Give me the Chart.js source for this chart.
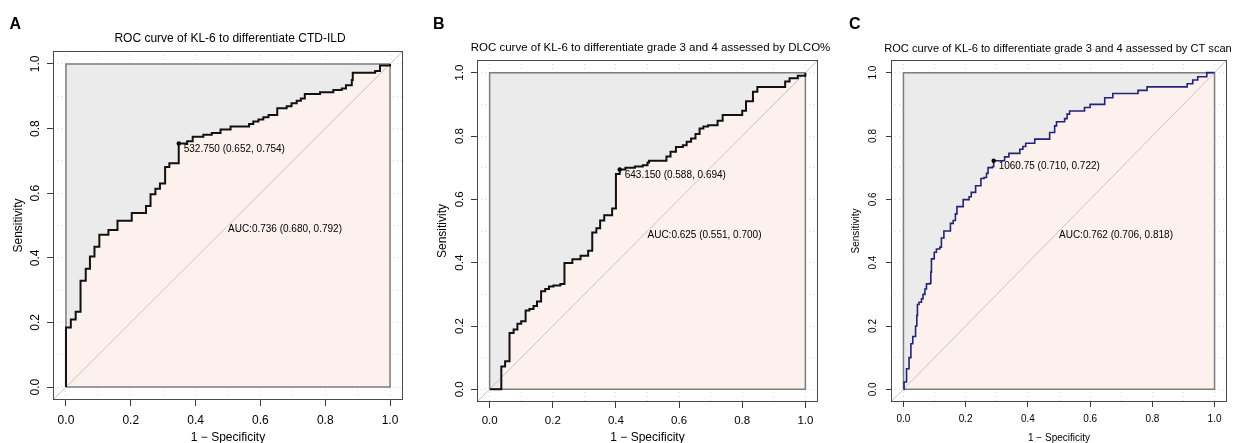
<!DOCTYPE html>
<html>
<head>
<meta charset="utf-8">
<script src="https://cdn.jsdelivr.net/npm/chart.js@4.4.1/dist/chart.umd.min.js"></script>
<style>
  body { margin: 0; background: #fff; overflow: hidden; }
  canvas { position: absolute; top: 0; }
</style>
</head>
<body>
<canvas id="rocA" width="420" height="443" style="left:0"></canvas>
<canvas id="rocB" width="418" height="443" style="left:420px"></canvas>
<canvas id="rocC" width="399" height="443" style="left:838px"></canvas>
<script>
const FONT = '"Liberation Sans", Arial, Helvetica, sans-serif';

// grid every 0.1, labels every 0.2
const gridSteps = [0, 0.1, 0.2, 0.3, 0.4, 0.5, 0.6, 0.7, 0.8, 0.9, 1.0];

const panelLetters = ['A', 'B', 'C'];
const panelTitles = [
    'ROC curve of KL-6 to differentiate CTD-ILD',
    'ROC curve of KL-6 to differentiate grade 3 and 4 assessed by DLCO%',
    'ROC curve of KL-6 to differentiate grade 3 and 4 assessed by CT scan'
];
const cutLabels = ['532.750 (0.652, 0.754)', '643.150 (0.588, 0.694)', '1060.75 (0.710, 0.722)'];
const aucLabels = ['AUC:0.736 (0.680, 0.792)', 'AUC:0.625 (0.551, 0.700)', 'AUC:0.762 (0.706, 0.818)'];
const aucLabelAt = [0.5, 0.5];

// best thresholds: [1 - specificity, sensitivity]
const cutA = [0.348, 0.754];
const cutB = [0.412, 0.694];
const cutC = [0.290, 0.722];

// ROC points (1 - specificity, sensitivity)
const fprA = [0, 0, 0.015, 0.030, 0.045, 0.061, 0.074, 0.088, 0.103, 0.131, 0.159, 0.203, 0.247, 0.261, 0.276,
    0.290, 0.306, 0.319, 0.348, 0.374, 0.391, 0.424, 0.450, 0.477, 0.508, 0.565, 0.578, 0.594, 0.609, 0.625,
    0.652, 0.681, 0.696, 0.712, 0.725, 0.737, 0.784, 0.825, 0.851, 0.864, 0.882, 0.885, 0.954, 0.969, 1.0];
const tprA = [0, 0.184, 0.209, 0.233, 0.329, 0.366, 0.404, 0.434, 0.471, 0.486, 0.515, 0.539, 0.560, 0.597, 0.614,
    0.630, 0.681, 0.693, 0.754, 0.761, 0.775, 0.781, 0.786, 0.797, 0.806, 0.814, 0.822, 0.828, 0.835, 0.842,
    0.863, 0.869, 0.878, 0.886, 0.893, 0.907, 0.912, 0.919, 0.924, 0.934, 0.950, 0.973, 0.978, 0.995, 1.0];

const fprB = [0, 0.037, 0.049, 0.063, 0.076, 0.088, 0.100, 0.114, 0.126, 0.139, 0.150, 0.163, 0.176, 0.188, 0.202,
    0.224, 0.237, 0.262, 0.288, 0.312, 0.325, 0.338, 0.350, 0.363, 0.388, 0.400, 0.412, 0.430, 0.460, 0.485,
    0.500, 0.505, 0.560, 0.573, 0.590, 0.612, 0.624, 0.638, 0.652, 0.665, 0.677, 0.692, 0.722, 0.738, 0.800,
    0.812, 0.834, 0.848, 0.936, 0.950, 0.976, 1.0];
const tprB = [0, 0.072, 0.089, 0.178, 0.189, 0.207, 0.215, 0.249, 0.254, 0.263, 0.277, 0.310, 0.317, 0.325, 0.328,
    0.333, 0.399, 0.411, 0.422, 0.438, 0.495, 0.509, 0.533, 0.550, 0.571, 0.680, 0.694, 0.700, 0.704, 0.708,
    0.716, 0.722, 0.735, 0.750, 0.765, 0.771, 0.782, 0.792, 0.806, 0.824, 0.830, 0.834, 0.848, 0.866, 0.880,
    0.910, 0.940, 0.955, 0.972, 0.982, 0.990, 1.0];

const fprC = [0, 0.002, 0.010, 0.018, 0.024, 0.030, 0.039, 0.043, 0.045, 0.050, 0.058, 0.063, 0.069, 0.074, 0.085,
    0.088, 0.090, 0.099, 0.106, 0.117, 0.122, 0.130, 0.151, 0.160, 0.167, 0.172, 0.192, 0.211, 0.218, 0.232,
    0.249, 0.259, 0.267, 0.272, 0.286, 0.290, 0.325, 0.339, 0.374, 0.384, 0.393, 0.422, 0.470, 0.486, 0.492,
    0.518, 0.526, 0.534, 0.582, 0.600, 0.647, 0.673, 0.754, 0.783, 0.912, 0.930, 0.946, 0.975, 1.0];
const tprC = [0, 0.023, 0.065, 0.100, 0.144, 0.167, 0.200, 0.233, 0.268, 0.275, 0.286, 0.300, 0.317, 0.333, 0.335,
    0.370, 0.412, 0.433, 0.443, 0.449, 0.478, 0.500, 0.524, 0.533, 0.554, 0.577, 0.599, 0.608, 0.622, 0.643,
    0.666, 0.669, 0.682, 0.700, 0.703, 0.722, 0.734, 0.745, 0.758, 0.767, 0.777, 0.790, 0.811, 0.832, 0.845,
    0.855, 0.869, 0.879, 0.890, 0.900, 0.921, 0.934, 0.944, 0.955, 0.965, 0.977, 0.987, 1.0, 1.0];

const unitSquare = [[0, 0], [0, 1], [1, 1], [1, 0], [0, 0]];
const diagonal = [-0.04, 1.04];

const GREY = '#ebebeb';
const PINK = '#fdf1ee';

// pixel layout of each panel
const panels = [
    {id: 'rocA', fpr: fprA, tpr: tprA, cut: cutA, left: 53, top: 51, right: 17, xh: 43, tick: 12, axis: 12,
        head: 12, tl: 6, tp: 7, yLab: 17, yPad: 11, headY: 39, headDx: 2, letterX: 9.5, line: '#111', lw: 2},
    {id: 'rocB', fpr: fprB, tpr: tprB, cut: cutB, left: 57, top: 60, right: 20, xh: 41, tick: 11.5, axis: 12,
        head: 11.5, tl: 6, tp: 6, yLab: 17, yPad: 15.5, headY: 48, headDx: 3, letterX: 13, line: '#111', lw: 2},
    {id: 'rocC', fpr: fprC, tpr: tprC, cut: cutC, left: 53, top: 60, right: 10, xh: 41, tick: 10, axis: 10,
        head: 11.1, tl: 5, tp: 6, yLab: 18, yPad: 12.7, headY: 49, headDx: -1, letterX: 11, line: '#23237a', lw: 1.6}
];

panels.forEach((g, i) => {
    const curve = g.fpr.map((x, k) => ({x: x, y: g.tpr[k]}));

    const decor = {
        id: 'decor',
        afterDatasetsDraw(chart) {
            const {ctx, chartArea: a, scales: {x, y}} = chart;
            ctx.save();
            // outer box
            ctx.strokeStyle = '#4a4a4a';
            ctx.lineWidth = 1;
            ctx.strokeRect(a.left + 0.5, a.top + 0.5, a.right - a.left - 1, a.bottom - a.top - 1);

            ctx.fillStyle = '#000';
            // y tick labels, rotated like R
            ctx.font = g.tick + 'px ' + FONT;
            ctx.textAlign = 'center';
            ctx.textBaseline = 'middle';
            y.ticks.forEach((t, k) => {
                if (k % 2) return;
                ctx.save();
                ctx.translate(a.left - g.yLab, y.getPixelForValue(t.value));
                ctx.rotate(-Math.PI / 2);
                ctx.fillText(t.value.toFixed(1), 0, 0);
                ctx.restore();
            });

            // annotations
            ctx.font = '10px ' + FONT;
            ctx.textAlign = 'left';
            ctx.fillText(cutLabels[i], x.getPixelForValue(g.cut[0]) + 5, y.getPixelForValue(g.cut[1]) + 6);
            ctx.fillText(aucLabels[i], x.getPixelForValue(aucLabelAt[0]), y.getPixelForValue(aucLabelAt[1]) + 4);

            // panel title + letter
            ctx.font = g.head + 'px ' + FONT;
            ctx.textAlign = 'center';
            ctx.fillText(panelTitles[i], (a.left + a.right) / 2 + g.headDx, g.headY);
            ctx.font = 'bold 16px ' + FONT;
            ctx.textAlign = 'left';
            ctx.textBaseline = 'alphabetic';
            ctx.fillText(panelLetters[i], g.letterX, 28.5);
            ctx.restore();
        }
    };

    const axisCommon = {
        type: 'linear',
        min: diagonal[0],
        max: diagonal[1],
        afterBuildTicks: s => { s.ticks = gridSteps.map(v => ({value: v})); },
        grid: {
            color: '#dadada',
            lineWidth: 1,
            tickLength: g.tl,
            tickColor: c => (c.index % 2 === 0 ? '#3a3a3a' : 'rgba(0,0,0,0)'),
            tickBorderDash: []
        },
        border: {display: false, dash: [1, 3]}
    };

    new Chart(document.getElementById(g.id), {
        type: 'line',
        data: {
            datasets: [
                {data: [{x: 0, y: 1}, {x: 1, y: 1}], fill: 'origin', backgroundColor: GREY,
                    borderColor: 'transparent', borderWidth: 0, order: 6},
                {data: curve, fill: 'origin', backgroundColor: PINK, borderColor: 'transparent',
                    borderWidth: 0, stepped: 'before', order: 5},
                {data: unitSquare.map(p => ({x: p[0], y: p[1]})), borderColor: '#7d7d7d', borderWidth: 1.5,
                    fill: false, order: 4},
                {data: diagonal.map(v => ({x: v, y: v})), borderColor: '#c4c4c4', borderWidth: 1,
                    fill: false, order: 3},
                {data: curve, borderColor: g.line, borderWidth: g.lw, fill: false, stepped: 'before', order: 2},
                {data: [{x: g.cut[0], y: g.cut[1]}], showLine: false, pointRadius: 2.2,
                    pointBackgroundColor: '#000', pointBorderWidth: 0, order: 1}
            ]
        },
        options: {
            responsive: false,
            animation: false,
            events: [],
            layout: {padding: {top: g.top, right: g.right, left: 0, bottom: 0}, autoPadding: false},
            elements: {point: {radius: 0}, line: {tension: 0}},
            plugins: {legend: {display: false}, tooltip: {enabled: false}, title: {display: false}},
            scales: {
                x: Object.assign({}, axisCommon, {
                    position: 'bottom',
                    afterFit: s => { s.height = g.xh; },
                    ticks: {
                        autoSkip: false, maxRotation: 0, padding: g.tp, color: '#000',
                        font: {family: FONT, size: g.tick},
                        callback: (v, k) => (k % 2 === 0 ? Number(v).toFixed(1) : '')
                    },
                    title: {display: true, text: '1 − Specificity', color: '#000', padding: 0,
                        font: {family: FONT, size: g.axis, lineHeight: 0.9}}
                }),
                y: Object.assign({}, axisCommon, {
                    position: 'left',
                    afterFit: s => { s.width = g.left; },
                    ticks: {display: false},
                    title: {display: true, text: 'Sensitivity', color: '#000', padding: {top: g.yPad, bottom: 0},
                        font: {family: FONT, size: g.axis}}
                })
            }
        },
        plugins: [decor]
    });
});
</script>
</body>
</html>
